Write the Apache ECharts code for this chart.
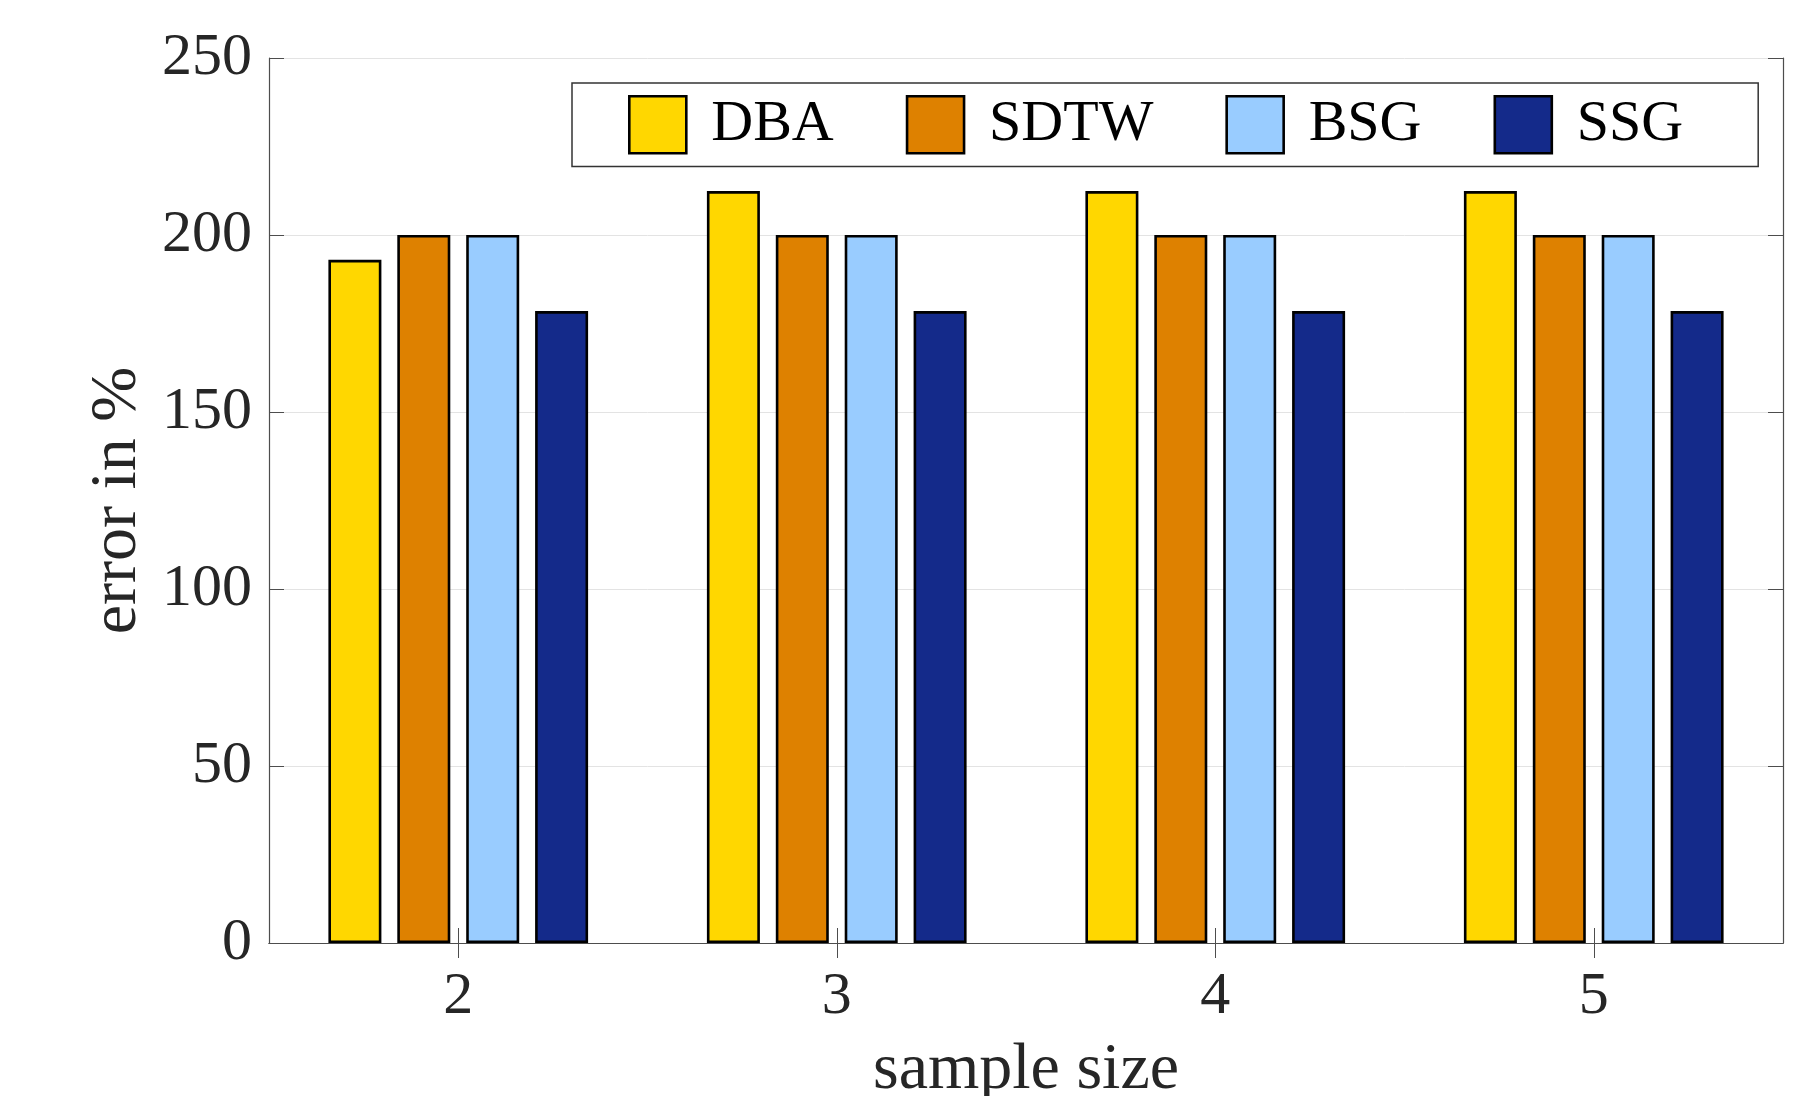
<!DOCTYPE html>
<html>
<head>
<meta charset="utf-8">
<script src="https://cdn.jsdelivr.net/npm/echarts@6/dist/echarts.min.js"></script>
<style>
html,body{margin:0;padding:0;background:#fff;overflow:hidden;}
#chart{width:1808px;height:1096px;}
</style>
</head>
<body>
<div id="chart"></div>
<script>
// ---- data ----
const categories = ['2', '3', '4', '5'];
const seriesNames = ['DBA', 'SDTW', 'BSG', 'SSG'];
const dbaValues  = [193, 212.4, 212.4, 212.4];
const sdtwValues = [200, 200, 200, 200];
const bsgValues  = [200, 200, 200, 200];
const ssgValues  = [178.5, 178.5, 178.5, 178.5];
const yTicks = [0, 50, 100, 150, 200, 250];
const xTitle = 'sample size';
const yTitle = 'error in %';

const colors = ['#FFD700', '#DE8100', '#99CCFF', '#142A8A'];
const valueSets = [dbaValues, sdtwValues, bsgValues, ssgValues];
const FONT = "Liberation Serif";
const TXT = '#262626';
const AX = '#4d4d4d';

const el = document.getElementById('chart');
const chart = echarts.init(el, null, {renderer: 'canvas', width: 1808, height: 1096});

const series = seriesNames.map((name, i) => ({
  name: name,
  type: 'bar',
  data: valueSets[i],
  barWidth: 53,
  barGap: '30%',
  itemStyle: {color: colors[i], borderColor: '#000', borderWidth: 2.6},
  emphasis: {disabled: true},
  animation: false
}));

const option = {
  animation: false,
  color: colors,
  grid: {left: 269, right: 25, top: 58, bottom: 153, containLabel: false, outerBoundsMode: 'none'},
  legend: {
    data: seriesNames,
    left: 572,
    top: 83,
    orient: 'horizontal',
    itemWidth: 57,
    itemHeight: 57,
    itemGap: 72,
    icon: 'rect',
    padding: [12, 75, 12, 56],
    borderColor: '#333',
    borderWidth: 1.5,
    backgroundColor: '#fff',
    textStyle: {fontFamily: FONT, fontSize: 58, color: '#000', padding: [0, 0, 0, 20]},
    itemStyle: {borderColor: '#000', borderWidth: 2.6}
  },
  xAxis: [
    {
      type: 'category',
      data: categories,
      position: 'bottom',
      boundaryGap: true,
      name: xTitle,
      nameLocation: 'middle',
      nameGap: 95,
      nameTextStyle: {fontFamily: FONT, fontSize: 66, color: TXT},
      axisLine: {show: true, lineStyle: {color: AX, width: 1.2}},
      axisTick: {show: true, inside: true, length: 15, alignWithLabel: true, lineStyle: {color: AX}},
      axisLabel: {fontFamily: FONT, fontSize: 60, color: TXT, margin: 24},
      splitLine: {show: false}
    },
    {
      type: 'category',
      data: categories,
      position: 'top',
      boundaryGap: true,
      axisLine: {show: true, lineStyle: {color: AX, width: 1.2}},
      axisTick: {show: true, inside: true, length: 15, alignWithLabel: true, lineStyle: {color: AX}},
      axisLabel: {show: false},
      splitLine: {show: false}
    }
  ],
  yAxis: [
    {
      type: 'value',
      min: yTicks[0],
      max: yTicks[yTicks.length - 1],
      interval: 50,
      position: 'left',
      name: yTitle,
      nameLocation: 'middle',
      nameGap: 102,
      nameTextStyle: {fontFamily: FONT, fontSize: 66, color: TXT},
      axisLine: {show: true, lineStyle: {color: AX, width: 1.2}},
      axisTick: {show: true, inside: true, length: 15, lineStyle: {color: AX}},
      axisLabel: {fontFamily: FONT, fontSize: 60, color: TXT, margin: 17},
      splitLine: {show: true, lineStyle: {color: '#e3e3e3', width: 1}}
    },
    {
      type: 'value',
      min: yTicks[0],
      max: yTicks[yTicks.length - 1],
      interval: 50,
      position: 'right',
      axisLine: {show: true, lineStyle: {color: AX, width: 1.2}},
      axisTick: {show: true, inside: true, length: 15, lineStyle: {color: AX}},
      axisLabel: {show: false},
      splitLine: {show: false}
    }
  ],
  series: series
};

chart.setOption(option);
</script>
</body>
</html>
